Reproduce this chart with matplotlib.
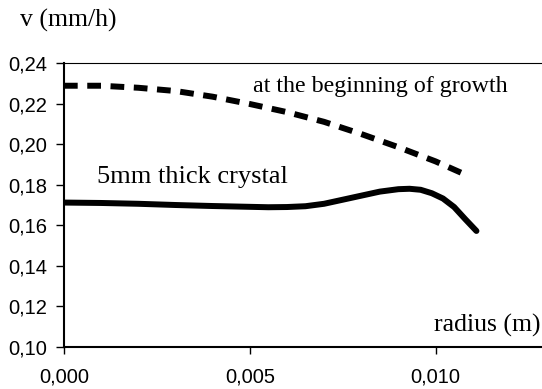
import matplotlib.pyplot as plt

# начало роста (пунктир)
r_start = [0.0, 0.001, 0.002, 0.003, 0.004, 0.005, 0.006, 0.007, 0.008, 0.009, 0.010, 0.0108]
v_start = [0.2288, 0.2288, 0.2278, 0.2262, 0.2234, 0.2198, 0.2158, 0.2110, 0.2050, 0.1985, 0.1915, 0.1850]

# кристалл толщиной 5 мм (сплошная)
r_5mm = [0.0, 0.001, 0.002, 0.003, 0.004, 0.005, 0.0055, 0.006, 0.0065, 0.007, 0.0075,
         0.008, 0.0085, 0.009, 0.0093, 0.0096, 0.0099, 0.0102, 0.0105, 0.0108, 0.0111]
v_5mm = [0.1712, 0.1710, 0.1706, 0.1700, 0.1695, 0.1691, 0.1689, 0.1690, 0.1694, 0.1706, 0.1726,
         0.1746, 0.1766, 0.1778, 0.1780, 0.1775, 0.1758, 0.1732, 0.1690, 0.1630, 0.1572]

x_ticks = [0.0, 0.005, 0.010]
x_labels = ['0,000', '0,005', '0,010']
y_ticks = [0.10, 0.12, 0.14, 0.16, 0.18, 0.20, 0.22, 0.24]
y_labels = ['0,10', '0,12', '0,14', '0,16', '0,18', '0,20', '0,22', '0,24']

serif = 'Liberation Serif'

fig = plt.figure(figsize=(5.42, 3.89), dpi=100)
ax = fig.add_axes([0.118, 0.108, 0.881, 0.730])

ax.plot(r_start, v_start, color='black', lw=4.3, linestyle=(0, (2.3, 1.6)),
        dash_capstyle='butt')
ax.plot(r_5mm, v_5mm, color='black', lw=4.3, solid_capstyle='round',
        solid_joinstyle='round')

ax.set_xlim(0, 0.01285)
ax.set_ylim(0.10, 0.24)
ax.set_xticks(x_ticks)
ax.set_xticklabels(x_labels, family='Liberation Sans')
ax.set_yticks(y_ticks)
ax.set_yticklabels(y_labels, family='Liberation Sans')
ax.tick_params(axis='x', direction='out', length=5, width=1, pad=9.5, labelsize=14.5)
ax.tick_params(axis='y', direction='out', length=6, width=1, pad=6, labelsize=14.5)

ax.spines['right'].set_visible(False)
ax.spines['top'].set_linewidth(0.8)
ax.spines['left'].set_linewidth(1.5)
ax.spines['bottom'].set_linewidth(1.5)

fig.text(20 / 542, 1 - 27 / 389, 'v (mm/h)', family=serif, fontsize=18.5,
         ha='left', va='baseline')
fig.text(253 / 542, 1 - 92 / 389, 'at the beginning of growth', family=serif,
         fontsize=17.3, ha='left', va='baseline')
fig.text(97 / 542, 1 - 183 / 389, '5mm thick crystal', family=serif,
         fontsize=19, ha='left', va='baseline')
fig.text(540 / 542, 1 - 332 / 389, 'radius (m)', family=serif, fontsize=18.5,
         ha='right', va='baseline')

fig.savefig('out.png', dpi=100)
